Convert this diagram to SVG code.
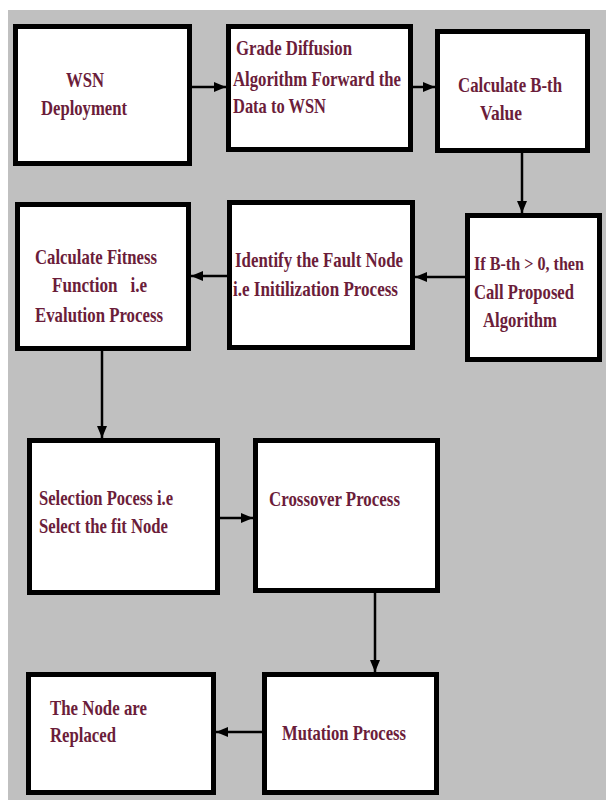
<svg xmlns="http://www.w3.org/2000/svg" width="606" height="800" viewBox="0 0 606 800">
<style>
.box{fill:#ffffff;stroke:#000000;stroke-width:5}
.t{font-family:'Liberation Serif','DejaVu Serif',serif;font-weight:bold;font-size:21px;fill:#6b1d3a}
.c{fill:none;stroke:#000000;stroke-width:2.5}
</style>
<defs>
<marker id="ah" markerUnits="userSpaceOnUse" markerWidth="12" markerHeight="10" refX="12" refY="5" orient="auto">
<path d="M0,0 L12,5 L0,10 z" fill="#000000"/>
</marker>
</defs>
<rect x="0" y="0" width="606" height="800" fill="#ffffff"/>
<rect x="8" y="10" width="598" height="790" fill="#c0c0c0"/>
<g id="connectors">
<line class="c" x1="192" y1="87" x2="226" y2="87" marker-end="url(#ah)"/>
<line class="c" x1="413" y1="87" x2="435" y2="87" marker-end="url(#ah)"/>
<line class="c" x1="522" y1="153" x2="522" y2="213" marker-end="url(#ah)"/>
<line class="c" x1="465" y1="277" x2="415" y2="277" marker-end="url(#ah)"/>
<line class="c" x1="227" y1="276" x2="191" y2="276" marker-end="url(#ah)"/>
<line class="c" x1="102" y1="351" x2="102" y2="438" marker-end="url(#ah)"/>
<line class="c" x1="220" y1="518" x2="253" y2="518" marker-end="url(#ah)"/>
<line class="c" x1="375" y1="593" x2="375" y2="672" marker-end="url(#ah)"/>
<line class="c" x1="262" y1="732" x2="216" y2="732" marker-end="url(#ah)"/>
</g>
<g id="n1">
<rect class="box" x="15.5" y="26.5" width="174" height="137"/>
<text class="t" x="66" y="87" textLength="38" lengthAdjust="spacingAndGlyphs">WSN</text>
<text class="t" x="41" y="115" textLength="86" lengthAdjust="spacingAndGlyphs">Deployment</text>
</g>
<g id="n2">
<rect class="box" x="228.5" y="26.5" width="182" height="123"/>
<text class="t" x="236" y="55" textLength="116" lengthAdjust="spacingAndGlyphs">Grade Diffusion</text>
<text class="t" x="233" y="86" textLength="168" lengthAdjust="spacingAndGlyphs">Algorithm Forward the</text>
<text class="t" x="233" y="113" textLength="93" lengthAdjust="spacingAndGlyphs">Data to WSN</text>
</g>
<g id="n3">
<rect class="box" x="437.5" y="31.5" width="150" height="119"/>
<text class="t" x="458" y="92" textLength="104" lengthAdjust="spacingAndGlyphs">Calculate B-th</text>
<text class="t" x="480" y="120" textLength="42" lengthAdjust="spacingAndGlyphs">Value</text>
</g>
<g id="n6">
<rect class="box" x="467.5" y="215.5" width="132" height="144"/>
<text class="t" x="474" y="270" style="font-size:18.5px" textLength="110" lengthAdjust="spacingAndGlyphs">If B-th &gt; 0, then</text>
<text class="t" x="474" y="299" textLength="100" lengthAdjust="spacingAndGlyphs">Call Proposed</text>
<text class="t" x="483" y="327" textLength="74" lengthAdjust="spacingAndGlyphs">Algorithm</text>
</g>
<g id="n5">
<rect class="box" x="229.5" y="202.5" width="183" height="145"/>
<text class="t" x="235" y="267" textLength="168" lengthAdjust="spacingAndGlyphs">Identify the Fault Node</text>
<text class="t" x="233" y="296" textLength="165" lengthAdjust="spacingAndGlyphs">i.e Initilization Process</text>
</g>
<g id="n4">
<rect class="box" x="17.5" y="204.5" width="171" height="144"/>
<text class="t" x="35" y="264" textLength="122" lengthAdjust="spacingAndGlyphs">Calculate Fitness</text>
<text class="t" x="52" y="292" textLength="95" lengthAdjust="spacingAndGlyphs" xml:space="preserve">Function   i.e</text>
<text class="t" x="35" y="322" textLength="128" lengthAdjust="spacingAndGlyphs">Evalution Process</text>
</g>
<g id="n7">
<rect class="box" x="29.5" y="440.5" width="188" height="152"/>
<text class="t" x="39" y="505" textLength="134" lengthAdjust="spacingAndGlyphs">Selection Pocess i.e</text>
<text class="t" x="39" y="533" textLength="129" lengthAdjust="spacingAndGlyphs">Select the fit Node</text>
</g>
<g id="n8">
<rect class="box" x="255.5" y="440.5" width="182" height="150"/>
<text class="t" x="269" y="506" textLength="131" lengthAdjust="spacingAndGlyphs">Crossover Process</text>
</g>
<g id="n9">
<rect class="box" x="264.5" y="674.5" width="172" height="118"/>
<text class="t" x="282" y="740" textLength="124" lengthAdjust="spacingAndGlyphs">Mutation Process</text>
</g>
<g id="n10">
<rect class="box" x="28.5" y="674.5" width="185" height="118"/>
<text class="t" x="50" y="715" textLength="97" lengthAdjust="spacingAndGlyphs">The Node are</text>
<text class="t" x="50" y="742" textLength="66" lengthAdjust="spacingAndGlyphs">Replaced</text>
</g>
</svg>
